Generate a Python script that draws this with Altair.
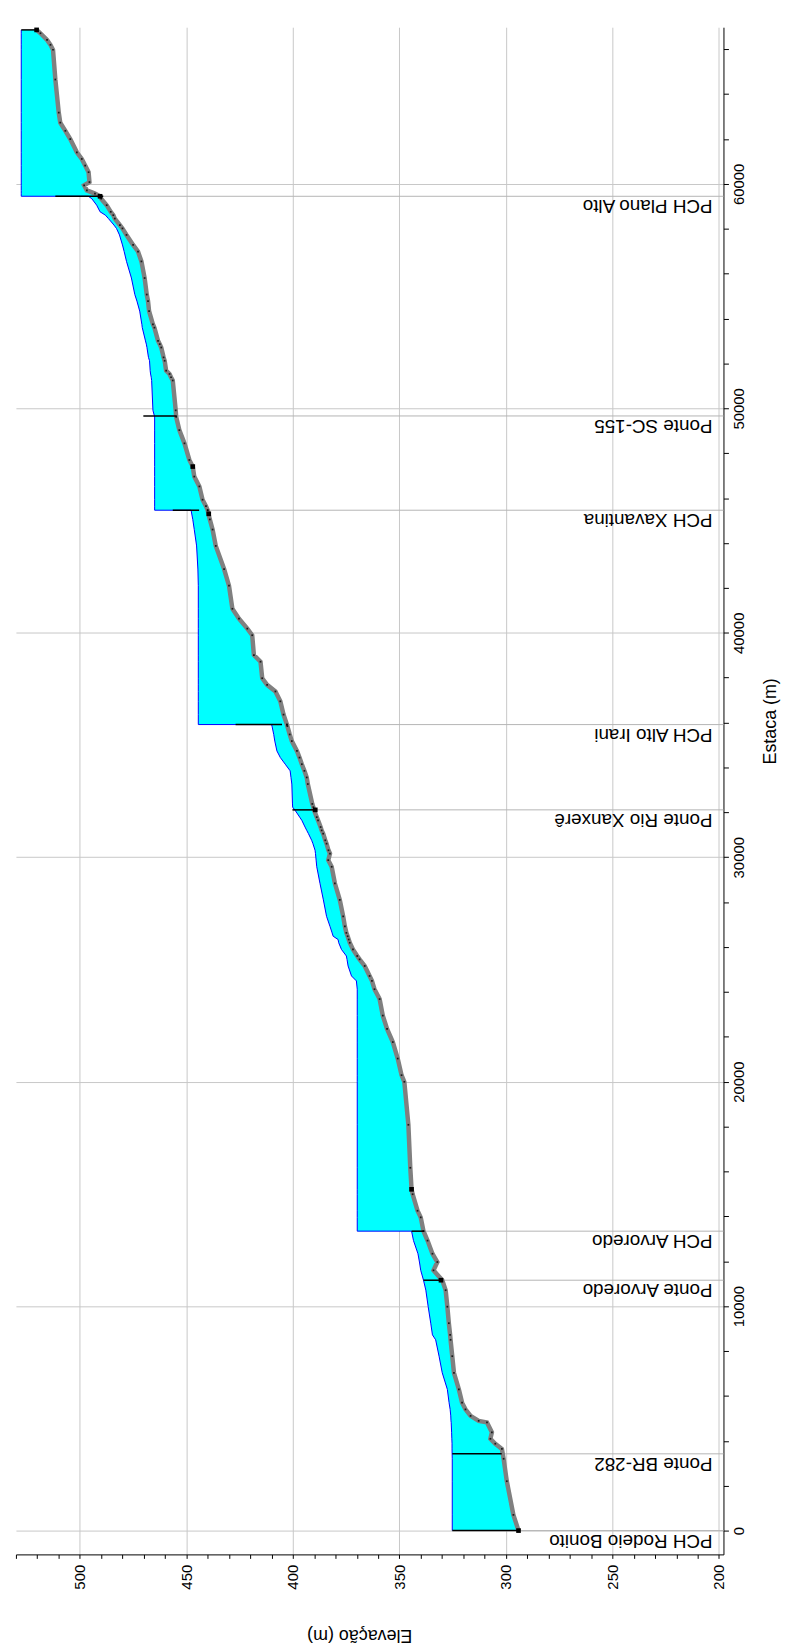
import altair as alt
import pandas as pd

# ---- Perfil longitudinal: estaca (m), fundo (m) e nível d'água (m) ----
estaca = [0, 700, 2200, 3200, 3640, 3870, 4090, 4380, 4820, 4890, 5110, 5400, 5700, 6290,
          7030, 7770, 8500, 8720, 9240, 9975, 10710, 11155, 11595, 11965, 12335, 12920,
          13340, 13341, 13955, 14250, 14985, 15205, 16165, 18080, 19995, 20290, 21030,
          21765, 22350, 22945, 23680, 24120, 24490, 24710, 25155, 25450, 25600, 25890,
          26190, 26335, 26480, 26630, 26920, 27365, 28100, 28840, 29575, 29870, 30165,
          30310, 30605, 30755, 31050, 31195, 31345, 31640, 31785, 32080, 32230, 32375,
          33260, 33555, 33850, 34145, 34440, 34735, 35175, 35470, 35840, 35910, 35911,
          36355, 36945, 37385, 37680, 37975, 38710, 39005, 39890, 40185, 40630, 41070,
          42100, 42840, 43870, 44600, 45050, 45460, 45461, 45640, 45930, 46520, 46960,
          47405, 47700, 48440, 49030, 49620, 49910, 51240, 51385, 51530, 51680, 52120,
          52270, 52710, 52860, 53005, 53595, 53745, 54330, 54775, 55070, 55805, 56545,
          56985, 57280, 57725, 58015, 58165, 58455, 58605, 58755, 59050, 59340, 59447,
          59448, 59565, 59710, 59935, 60080, 60520, 60815, 61110, 61405, 61995, 62365,
          62730, 63175, 64650, 65975, 66195, 66415, 66710, 66860]
fundo = [294.1, 296.5, 299.6, 301.1, 301.9, 305.0, 307.3, 306.6, 308.9, 312.8, 316.6, 319.0,
         320.6, 322.1, 324.4, 325.2, 326.0, 326.2, 326.8, 327.5, 328.3, 329.9, 334.0, 332.2,
         334.5, 336.8, 338.7, 338.7, 340.0, 341.5, 343.8, 344.3, 344.9, 345.8, 347.7, 349.0,
         350.8, 353.1, 355.8, 357.8, 359.3, 361.7, 362.9, 364.0, 366.3, 368.7, 369.8, 371.8,
         373.3, 373.8, 374.3, 374.9, 375.6, 376.4, 378.0, 380.3, 381.8, 383.4, 382.6, 383.3,
         384.2, 384.8, 385.8, 386.5, 387.0, 388.2, 388.8, 390.0, 390.4, 390.9, 393.0, 393.5,
         394.6, 395.8, 396.9, 398.1, 400.5, 401.5, 402.6, 402.8, 402.8, 404.4, 405.9, 408.2,
         412.1, 414.4, 415.2, 418.3, 419.1, 421.4, 425.3, 428.4, 430.0, 432.3, 436.2, 437.7,
         439.0, 440.0, 440.0, 440.8, 442.4, 443.9, 446.3, 447.0, 448.6, 450.9, 453.3, 454.8,
         455.0, 456.4, 457.2, 457.9, 459.5, 460.2, 460.7, 461.8, 462.5, 463.3, 465.0, 465.7,
         467.5, 468.0, 468.6, 469.6, 471.1, 472.7, 475.0, 478.1, 480.0, 481.2, 483.6, 484.3,
         485.5, 487.4, 490.0, 490.5, 490.5, 492.9, 496.7, 498.0, 495.5, 495.9, 497.5, 499.1,
         501.4, 504.5, 506.8, 509.2, 509.9, 511.5, 512.6, 513.8, 515.4, 518.5, 520.3]
nivel = [325.2, 325.2, 325.2, 325.2, 325.3, 325.3, 325.4, 325.5, 325.7, 325.8, 325.9, 326.2,
         326.7, 327.5, 329.9, 331.4, 333.0, 334.5, 335.3, 336.5, 337.6, 338.7, 340.0, 340.6,
         341.3, 343.4, 344.3, 369.8, 369.8, 369.8, 369.8, 369.8, 369.8, 369.8, 369.8, 369.8,
         369.8, 369.8, 369.8, 369.8, 369.8, 369.8, 370.2, 372.5, 374.1, 374.6, 374.9, 377.2,
         378.5, 378.8, 381.1, 381.6, 382.6, 384.2, 385.7, 387.3, 388.8, 389.1, 389.4, 389.6,
         390.6, 391.2, 392.7, 393.5, 394.3, 395.8, 396.8, 398.9, 400.1, 400.2, 400.5, 400.9,
         401.3, 403.6, 405.9, 407.5, 408.5, 409.0, 409.8, 410.0, 444.4, 444.4, 444.4, 444.4,
         444.4, 444.4, 444.4, 444.4, 444.4, 444.4, 444.4, 444.4, 444.4, 444.6, 445.2, 446.3,
         447.0, 447.8, 464.9, 464.9, 464.9, 464.9, 464.9, 464.9, 464.9, 464.9, 464.9, 464.9,
         465.7, 466.3, 466.5, 466.8, 467.0, 467.3, 467.8, 468.5, 468.8, 469.2, 470.7, 470.9,
         471.9, 473.2, 474.2, 475.8, 478.1, 479.2, 480.0, 481.4, 482.8, 484.0, 486.6, 488.0,
         490.5, 492.1, 494.4, 496.0, 527.5, 527.5, 527.5, 527.5, 527.5, 527.5, 527.5, 527.5,
         527.5, 527.5, 527.5, 527.5, 527.5, 527.5, 527.5, 527.5, 527.5, 527.5, 527.5]

# ---- Estruturas (PCHs e pontes) ----
nomes = ["PCH Rodeio Bonito", "Ponte BR-282", "Ponte Arvoredo", "PCH Arvoredo",
         "Ponte Rio Xanxerê", "PCH Alto Irani", "PCH Xavantina", "Ponte SC-155",
         "PCH Plano Alto"]
nomes_est = [0, 3420, 11155, 13340, 32110, 35910, 45460, 49660, 59447]
nomes_base = [294.1, 302.0, 329.9, 338.7, 388.8, 405.1, 444.0, 454.5, 489.0]

estr_est = [0, 3420, 11155, 13340, 32110, 35910, 45460, 49660, 59447, 66860]
estr_topo = [325.2, 325.2, 338.7, 344.3, 400.2, 426.9, 456.4, 470.2, 511.5, 527.5]
estr_base = [294.1, 302.0, 329.9, 338.7, 388.8, 405.1, 444.0, 454.5, 489.0, 520.3]

marc_est = [0, 11155, 15205, 32110, 45300, 47405, 59447, 66860]
marc_elev = [294.1, 330.5, 344.3, 389.5, 439.5, 447.0, 490.5, 520.3]

W, H = 713, 1539
FONT = "Liberation Sans, Arial, Helvetica, sans-serif"

perfil = pd.DataFrame({"est": estaca, "fundo": fundo, "na": nivel,
                       "ordem": list(range(len(estaca)))})
rot = pd.DataFrame({"est": nomes_est, "nome": nomes, "base": nomes_base})
estr = pd.DataFrame({"est": estr_est, "topo": estr_topo, "base": estr_base})
marc = pd.DataFrame({"est": marc_est, "elev": marc_elev})

xs = alt.Scale(domain=[197.9, 530], reverse=True, nice=False, zero=False)
ys = alt.Scale(domain=[-1061, 66980], nice=False, zero=False)

x_axis = alt.Axis(
    title="Elevação (m)", orient="bottom",
    values=list(range(200, 531, 10)),
    labelExpr="datum.value % 50 === 0 ? datum.label : ''", format="d",
    labelAngle=270, labelAlign="right", labelBaseline="middle", labelPadding=6,
    labelFontSize=15, labelFont=FONT, labelColor="black",
    labelOverlap=False, labelFlush=False, labelBound=False,
    tickSize=4, tickColor="black", domainColor="black",
    gridColor="#c8c8c8",
    gridOpacity={"condition": {"test": "datum.value % 50 === 0", "value": 1}, "value": 0},
    titleAngle=180, titleBaseline="middle", titleAlign="center", titleX=346, titleY=81,
    titleFont=FONT, titleFontSize=18, titleFontWeight="normal", titleColor="black",
)
y_axis = alt.Axis(
    title="Estaca (m)", orient="right",
    values=list(range(0, 66001, 2000)),
    labelExpr="datum.value % 10000 === 0 ? datum.label : ''", format="d",
    labelAngle=270, labelAlign="center", labelBaseline="top", labelPadding=3,
    labelFontSize=15, labelFont=FONT, labelColor="black",
    labelOverlap=False, labelFlush=False, labelBound=False,
    tickSize=5, tickColor="black", domainColor="black",
    gridColor="#c8c8c8",
    gridOpacity={"condition": {"test": "datum.value % 10000 === 0", "value": 1}, "value": 0},
    titleAngle=270, titleBaseline="middle", titleAlign="center", titleX=47, titleY=699,
    titleFont=FONT, titleFontSize=18, titleFontWeight="normal", titleColor="black",
)


def X(field):
    return alt.X(field, type="quantitative", scale=xs, axis=x_axis)


def Y(field):
    return alt.Y(field, type="quantitative", scale=ys, axis=y_axis)


linhas_est = alt.Chart(rot).mark_rule(color="#b4b4b4", strokeWidth=1).encode(
    y=Y("est"), x=X("base"), x2=alt.value(W))

agua = alt.Chart(perfil).mark_area(orient="horizontal", fill="#00FFFF", opacity=1).encode(
    y=Y("est"), x=X("na"), x2="fundo")

linha_na = alt.Chart(perfil).mark_line(color="#0000FF", strokeWidth=1).encode(
    y=Y("est"), x=X("na"), order="ordem:Q")

linha_fundo = alt.Chart(perfil).mark_line(color="#808080", strokeWidth=4.5).encode(
    y=Y("est"), x=X("fundo"), order="ordem:Q")

pontos = alt.Chart(perfil).mark_square(color="black", size=3, opacity=0.8).encode(
    y=Y("est"), x=X("fundo"))

estruturas = alt.Chart(estr).mark_rule(color="black", strokeWidth=1.5).encode(
    y=Y("est"), x=X("topo"), x2="base")

blocos = alt.Chart(marc).mark_square(color="black", size=22, opacity=1).encode(
    y=Y("est"), x=X("elev"))

rotulos = alt.Chart(rot).mark_text(angle=180, align="left", baseline="bottom",
                                   font=FONT, fontSize=19, color="black").encode(
    y=Y("est"), x=alt.value(W - 11), text="nome:N")

chart = alt.layer(
    linhas_est, agua, linha_na, linha_fundo, pontos, estruturas, blocos, rotulos
).properties(
    width=W, height=H,
    padding={"left": 1, "top": 6, "right": 5, "bottom": 2},
    background="white",
).configure_view(stroke=None)

chart.save("out.html", embed_options={"renderer": "svg", "actions": False})
